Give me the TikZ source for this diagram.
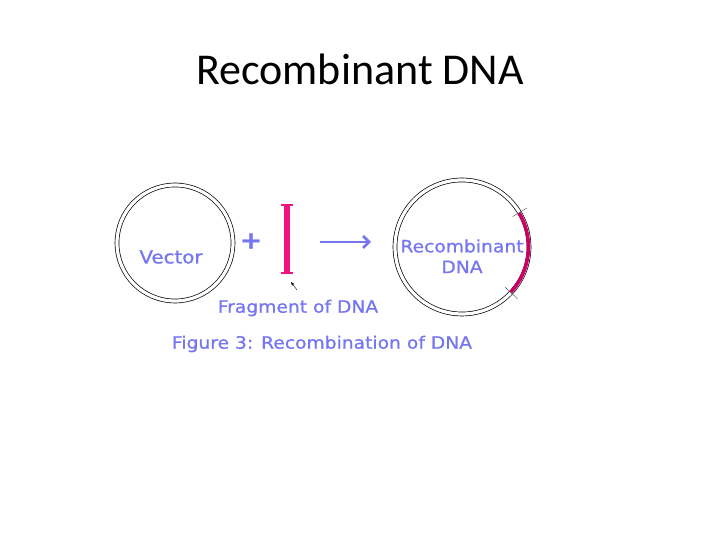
\documentclass[tikz,border=0pt]{standalone}
\usepackage{fontspec}
\setmainfont{Carlito}
\newfontfamily\hand[FakeStretch=1.1,FakeBold=1]{DejaVu Sans}
\usepackage{xcolor}
\usetikzlibrary{positioning, arrows.meta}

\definecolor{lblue}{RGB}{118,118,240}
\definecolor{frag}{RGB}{240,20,125}
\definecolor{insert}{RGB}{205,0,100}

\tikzset{
  ring/.style={circle,draw=black,double=white,double distance=3.2pt,line width=0.7pt,inner sep=0pt},
  lbl/.style={text=lblue,font=\hand\fontsize{17}{19}\selectfont}
}

\begin{document}
\begin{tikzpicture}[x=1pt,y=1pt,>=Stealth]
  \useasboundingbox (0,0) rectangle (720,540);
  \node[font=\fontsize{44}{50}\selectfont] (title) at (360,471){Recombinant DNA};
  % vector ring
  \node[ring,minimum size=116] (vec) at (175,297){};
  \node[lbl,font=\hand\fontsize{18}{20}\selectfont] (vtxt) at (171,283){Vector};
  \node[text=lblue,font=\hand\bfseries\fontsize{24}{24}\selectfont] (plus) at (251,299){+};
  % DNA fragment
  \draw[frag,line width=5.5pt] (287,268)--(287,334);
  \draw[frag,line width=2pt] (281,335)--(293,335) (281,267)--(293,267);
  \coordinate (tipa) at (291,258);
  \coordinate (taila) at (297,250);
  \draw[->,>={Stealth[length=4pt,width=3pt]},thin] (taila)--(tipa);
  \node[lbl] (ftxt) at (298,232){Fragment of DNA};
  % big arrow
  \coordinate (a1) at (320,298);
  \coordinate (a2) at (371,298);
  \draw[->,>={Straight Barb[length=6pt,width=12pt]},lblue,line width=2.8pt] (a1)--(a2);
  % recombinant ring
  \node[ring,minimum size=134] (rec) at (462,293){};
  \draw[insert,line width=3.5pt] ([shift={(31:66.5)}]rec.center) arc[start angle=31,end angle=-43,radius=66.5];
  \draw[black!70,thin] ([shift={(31:59)}]rec.center)--([shift={(31:76)}]rec.center);
  \draw[black!70,thin] ([shift={(-43:59)}]rec.center)--([shift={(-43:76)}]rec.center);
  \node[lbl] (rtxt) at (462,294){Recombinant};
  \node[lbl,below=1pt of rtxt] (dtxt){DNA};
  % caption
  \node[lbl] (cap) at (322,196){Figure 3: Recombination of DNA};
\end{tikzpicture}
\end{document}
